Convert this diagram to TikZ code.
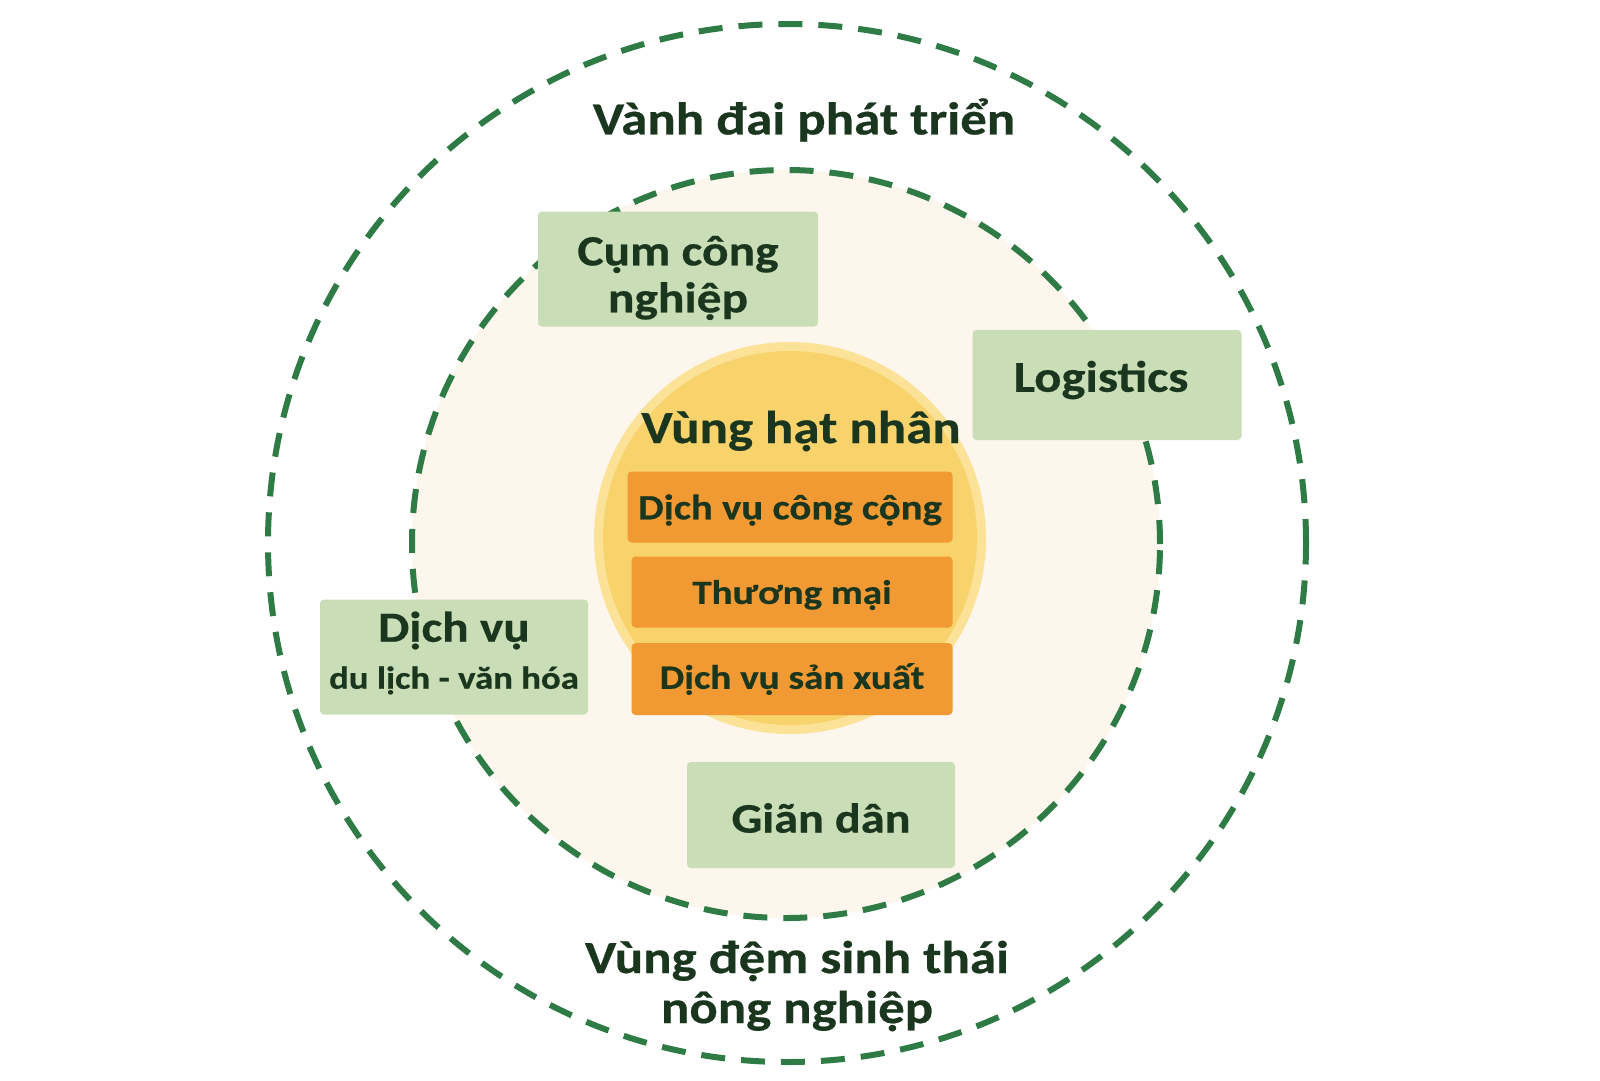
\documentclass[tikz,border=0pt]{standalone}
\usepackage{fontspec}
\setmainfont{Carlito}[FakeStretch=1.15,BoldFeatures={FakeBold=0.5}]
\definecolor{dashgreen}{HTML}{2E7B46}
\definecolor{txtgreen}{HTML}{1B361E}
\definecolor{cream}{HTML}{FCF6EC}
\definecolor{boxgreen}{HTML}{C9DDB6}
\definecolor{orangebox}{HTML}{F19A33}
\definecolor{yellowc}{HTML}{F8D36C}
\definecolor{yellowrim}{HTML}{FBE296}
\begin{document}
\begin{tikzpicture}[x=1pt,y=-1pt,
  ring/.style={draw=dashgreen,line width=6pt,dash pattern=on 24pt off 16pt},
  greenbox/.style={fill=boxgreen,rounded corners=4pt,inner sep=0pt},
  orbox/.style={fill=orangebox,rounded corners=4pt,inner sep=0pt},
  boxtext/.style={text=txtgreen,align=center,inner sep=0pt,font=\bfseries\fontsize{43}{47}\selectfont},
  ortext/.style={text=txtgreen,inner sep=0pt,font=\bfseries\fontsize{34}{38}\selectfont},
  lbl/.style={text=txtgreen,align=center,inner sep=0pt,font=\bfseries\fontsize{46}{50}\selectfont}]
\useasboundingbox (0,0) rectangle (1600,1080);
\fill[white] (0,0) rectangle (1600,1080);
% inner zone
\fill[cream] (786,544) circle[radius=374pt];
% nucleus
\fill[yellowrim] (790,538) circle[radius=196pt];
\fill[yellowc] (790,538) circle[radius=187pt];
% dashed rings
\draw[ring] (787,543) circle[radius=519pt];
\draw[ring] (786,544) circle[radius=374pt];
% ring labels
\node[lbl] (vanh) at (804,120) {Vành đai phát triển};
\node[lbl] (dem) at (797,986) {Vùng đệm sinh thái\\nông nghiệp};
% green boxes
\node[greenbox,minimum width=280pt,minimum height=115pt] (cum) at (678,269) {};
\node[boxtext,yshift=-9pt] (cumt) at (cum.center) {Cụm công\\nghiệp};
\node[greenbox,minimum width=269pt,minimum height=110pt] (logi) at (1107,385) {};
\node[boxtext,font=\bfseries\fontsize{44}{48}\selectfont,xshift=-6pt,yshift=5pt] (logit) at (logi.center) {Logistics};
\node[greenbox,minimum width=268pt,minimum height=115pt] (dlvh) at (454,657) {};
\node[boxtext,yshift=4pt] (dlvht) at (dlvh.center) {Dịch vụ\\{\fontsize{32}{38}\selectfont du lịch - văn hóa}};
\node[greenbox,minimum width=268pt,minimum height=106pt] (gian) at (821,815) {};
\node[boxtext,font=\bfseries\fontsize{42}{46}\selectfont,yshift=-3pt] (giant) at (gian.center) {Giãn dân};
% nucleus content
\node[lbl] (hn) at (801,431) {Vùng hạt nhân};
\node[orbox,minimum width=325pt,minimum height=71pt] (o1) at (790,507) {};
\node[ortext,font=\bfseries\fontsize{35.5}{38}\selectfont,yshift=-3pt] (o1t) at (o1.center) {Dịch vụ công cộng};
\node[orbox,minimum width=321pt,minimum height=71pt] (o2) at (792,592) {};
\node[ortext,yshift=-3pt] (o2t) at (o2.center) {Thương mại};
\node[orbox,minimum width=321pt,minimum height=72pt] (o3) at (792,679) {};
\node[ortext] (o3t) at (o3.center) {Dịch vụ sản xuất};
\end{tikzpicture}
\end{document}
